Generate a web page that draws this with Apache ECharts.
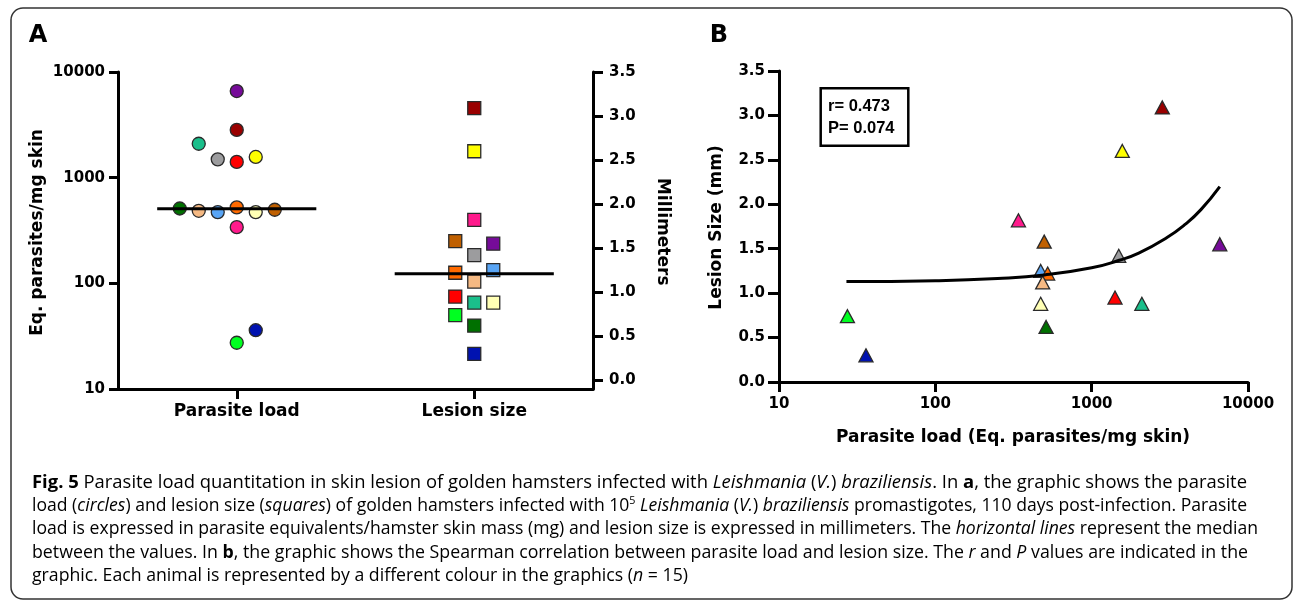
<!DOCTYPE html>
<html>
<head>
<meta charset="utf-8">
<script src="https://cdn.jsdelivr.net/npm/echarts@6/dist/echarts.min.js"></script>
<style>
  html, body { margin: 0; padding: 0; background: #fff; }
  #box { width: 1293px; height: 601px; }
</style>
</head>
<body>
<div id="box"></div>
<script>
// one entry per hamster (same order in every array)
var animalColors = ['#00ff21', '#0012b0', '#ff1a8c', '#c06000', '#59a5f5', '#ff6a00', '#f5b983', '#ffffb5',
                    '#007000', '#9c9c9e', '#ff0000', '#1abf8b', '#ffff00', '#9a0000', '#760b99'];
var parasiteLoad = [27.4, 36, 340, 497, 472, 523, 486, 472, 511, 1490, 1410, 2094, 1570, 2830, 6600];
var lesionSize   = [0.74, 0.30, 1.82, 1.58, 1.25, 1.22, 1.12, 0.88, 0.62, 1.42, 0.95, 0.88, 2.60, 3.09, 1.55];
// column slot of each point in the dot plots (panel A)
var loadSlot   = [0, 1, 0, 2, -1, 0, -2, 1, -3, -1, 0, -2, 1, 0, 0];
var lesionSlot = [-1, 0, 0, -1, 1, -1, 0, 1, 0, 0, -1, 0, 0, 0, 1];

var categories = ['Parasite load', 'Lesion size'];
var medianLoad = 507;
var medianLesion = 1.21;

// fitted curve of panel B
var fitLoad   = [27, 100, 250, 500, 1000, 1500, 2000, 3000, 4000, 5000, 6600];
var fitLesion = [1.13, 1.14, 1.165, 1.205, 1.285, 1.37, 1.45, 1.62, 1.78, 1.94, 2.20];

var mmTicks = [0, 0.5, 1.0, 1.5, 2.0, 2.5, 3.0, 3.5];
var statLines = ['r= 0.473', 'P= 0.074'];

var myChart = echarts.init(document.getElementById('box'));

var axFont = 'DejaVu Sans';
var SLOT = 0.16, HALF = 0.67;

function axisCommon(len) {
    return {
        axisLine: { show: true, onZero: false, lineStyle: { color: '#000', width: 3 } },
        axisTick: { show: true, length: len, lineStyle: { color: '#000', width: 3 } },
        splitLine: { show: false }
    };
}
function numLabel(margin) {
    return { color: '#000', fontFamily: axFont, fontWeight: 'bold', fontSize: 15, margin: margin };
}

// caption, one entry per printed line
var capFont = '"Open Sans", "Noto Sans", sans-serif';
var capSize = 18;
var capLines = [
  [['b', 'Fig. 5'], ['n', ' Parasite load quantitation in skin lesion of golden hamsters infected with '], ['i', 'Leishmania'], ['n', ' ('], ['i', 'V.'], ['n', ') '], ['i', 'braziliensis'], ['n', '. In '], ['b', 'a'], ['n', ', the graphic shows the parasite']],
  [['n', 'load ('], ['i', 'circles'], ['n', ') and lesion size ('], ['i', 'squares'], ['n', ') of golden hamsters infected with 10'], ['s', '5'], ['n', ' '], ['i', 'Leishmania'], ['n', ' ('], ['i', 'V.'], ['n', ') '], ['i', 'braziliensis'], ['n', ' promastigotes, 110 days post-infection. Parasite']],
  [['n', 'load is expressed in parasite equivalents/hamster skin mass (mg) and lesion size is expressed in millimeters. The '], ['i', 'horizontal lines'], ['n', ' represent the median']],
  [['n', 'between the values. In '], ['b', 'b'], ['n', ', the graphic shows the Spearman correlation between parasite load and lesion size. The '], ['i', 'r'], ['n', ' and '], ['i', 'P'], ['n', ' values are indicated in the']],
  [['n', 'graphic. Each animal is represented by a different colour in the graphics ('], ['i', 'n'], ['n', ' = 15)']]
];
var capRight = [1247, 1247, 1258, 1248, 688];
var capTop = [482.7, 505.7, 529.3, 552.7, 576];
var capLeft = 32;

var ctx = document.createElement('canvas').getContext('2d');
function capFontOf(k) {
    var sz = k === 's' ? 11 : capSize;
    return (k === 'i' ? 'italic ' : '') + (k === 'b' ? 'bold ' : '') + sz + 'px ' + capFont;
}
var capColor = '#333';
var capRich = {
    n: { fontFamily: capFont, fontSize: capSize, color: capColor, lineHeight: 20 },
    i: { fontFamily: capFont, fontSize: capSize, fontStyle: 'italic', color: capColor, lineHeight: 20 },
    b: { fontFamily: capFont, fontSize: capSize, fontWeight: 'bold', color: capColor, lineHeight: 20 },
    s: { fontFamily: capFont, fontSize: 11, color: capColor, verticalAlign: 'top', lineHeight: 20 }
};

var graphics = [];
graphics.push({
    type: 'rect', shape: { x: 11, y: 8, width: 1281, height: 591, r: 12 },
    style: { fill: 'none', stroke: '#333', lineWidth: 1.5 }, silent: true
});
capLines.forEach(function(line, li) {
    var txt = '', w = 0;
    line.forEach(function(seg) {
        txt += '{' + seg[0] + '|' + seg[1] + '}';
        ctx.font = capFontOf(seg[0]);
        w += ctx.measureText(seg[1]).width;
    });
    graphics.push({
        type: 'text', x: capLeft, y: capTop[li], scaleX: (capRight[li] - capLeft) / w,
        style: { text: txt, rich: capRich, verticalAlign: 'middle', align: 'left' }, silent: true
    });
});

function title(txt, x, y, rot, size) {
    return {
        type: 'text', x: x, y: y, rotation: rot || 0, silent: true,
        style: { text: txt, fill: '#000', font: 'bold ' + (size || 17) + 'px "DejaVu Sans"', align: 'center', verticalAlign: 'middle' }
    };
}
graphics.push(title('A', 38, 36, 0, 24));
graphics.push(title('B', 719, 36, 0, 24));
graphics.push(title('Eq. parasites/mg skin', 38, 232.5, Math.PI / 2));
graphics.push(title('Millimeters', 662, 231.7, -Math.PI / 2));
graphics.push(title('Lesion Size (mm)', 717, 227.5, Math.PI / 2));
graphics.push(title('Parasite load (Eq. parasites/mg skin)', 1013, 438, 0));

// r / P box
graphics.push({
    type: 'rect', shape: { x: 820.7, y: 88.3, width: 87.6, height: 57.4 },
    style: { fill: '#fff', stroke: '#000', lineWidth: 2.5 }, silent: true, z: 10
});
statLines.forEach(function(s, i) {
    graphics.push({
        type: 'text', x: 828, y: 106.7 + i * 21.6, silent: true, z: 11,
        style: { text: s, fill: '#000', font: 'bold 16.5px "Liberation Sans", Arial', verticalAlign: 'middle' }
    });
});

var circleData = parasiteLoad.map(function(v, i) {
    return { value: [1 + loadSlot[i] * SLOT, v], itemStyle: { color: animalColors[i] } };
});
var squareData = lesionSize.map(function(v, i) {
    return { value: [3 + lesionSlot[i] * SLOT, v], itemStyle: { color: animalColors[i] } };
});
var triData = parasiteLoad.map(function(v, i) {
    return { value: [v, lesionSize[i]], itemStyle: { color: animalColors[i] } };
});
var fitData = fitLoad.map(function(v, i) { return [v, fitLesion[i]]; });

var markBorder = { borderColor: '#2a2a2a', borderWidth: 1.3, opacity: 1 };

var option = {
    animation: false,
    backgroundColor: '#fff',
    graphic: graphics,
    grid: [
        { left: 118, top: 72, width: 475, height: 317 },
        { left: 779, top: 71, width: 469, height: 311 }
    ],
    xAxis: [
        Object.assign(axisCommon(10), {
            type: 'category', gridIndex: 0, data: categories, boundaryGap: true,
            axisTick: { show: true, alignWithLabel: true, length: 10, lineStyle: { color: '#000', width: 3 } },
            axisLabel: { color: '#000', fontFamily: axFont, fontWeight: 'bold', fontSize: 17, margin: 14 }
        }),
        { type: 'value', gridIndex: 0, min: 0, max: 4, show: false },
        Object.assign(axisCommon(10), {
            type: 'log', logBase: 10, gridIndex: 1, min: 10, max: 10000,
            minorTick: { show: false },
            axisLabel: Object.assign(numLabel(15), {
                formatter: function(v) { return String(Math.round(v)); }
            })
        })
    ],
    yAxis: [
        Object.assign(axisCommon(9), {
            type: 'log', logBase: 10, gridIndex: 0, min: 10, max: 10000, position: 'left',
            axisLabel: Object.assign(numLabel(13), {
                formatter: function(v) { return String(Math.round(v)); }
            })
        }),
        Object.assign(axisCommon(10), {
            type: 'value', gridIndex: 0, min: -0.1, max: 3.5, position: 'right',
            axisTick: { show: true, length: 10, customValues: mmTicks, lineStyle: { color: '#000', width: 3 } },
            axisLabel: Object.assign(numLabel(16), {
                customValues: mmTicks,
                formatter: function(v) { return v.toFixed(1); }
            })
        }),
        Object.assign(axisCommon(11), {
            type: 'value', gridIndex: 1, min: 0, max: 3.5, interval: 0.5,
            axisLabel: Object.assign(numLabel(14), {
                formatter: function(v) { return v.toFixed(1); }
            })
        })
    ],
    series: [
        {
            name: 'load', type: 'scatter', xAxisIndex: 1, yAxisIndex: 0,
            symbol: 'circle', symbolSize: 13, itemStyle: markBorder, data: circleData, z: 2, silent: true
        },
        {
            name: 'load median', type: 'line', xAxisIndex: 1, yAxisIndex: 0, showSymbol: false, silent: true,
            data: [[1 - HALF, medianLoad], [1 + HALF, medianLoad]],
            lineStyle: { color: '#000', width: 3 }, z: 3
        },
        {
            name: 'lesion', type: 'scatter', xAxisIndex: 1, yAxisIndex: 1,
            symbol: 'rect', symbolSize: 13, itemStyle: markBorder, data: squareData, z: 2, silent: true
        },
        {
            name: 'lesion median', type: 'line', xAxisIndex: 1, yAxisIndex: 1, showSymbol: false, silent: true,
            data: [[3 - HALF, medianLesion], [3 + HALF, medianLesion]],
            lineStyle: { color: '#000', width: 3 }, z: 3
        },
        {
            name: 'correlation', type: 'scatter', xAxisIndex: 2, yAxisIndex: 2,
            symbol: 'triangle', symbolSize: [14, 13], itemStyle: markBorder, data: triData, z: 2, silent: true
        },
        {
            name: 'fit', type: 'line', xAxisIndex: 2, yAxisIndex: 2, smooth: true, showSymbol: false, silent: true,
            data: fitData, lineStyle: { color: '#000', width: 3 }, z: 3
        }
    ]
};

myChart.setOption(option);
</script>
</body>
</html>
